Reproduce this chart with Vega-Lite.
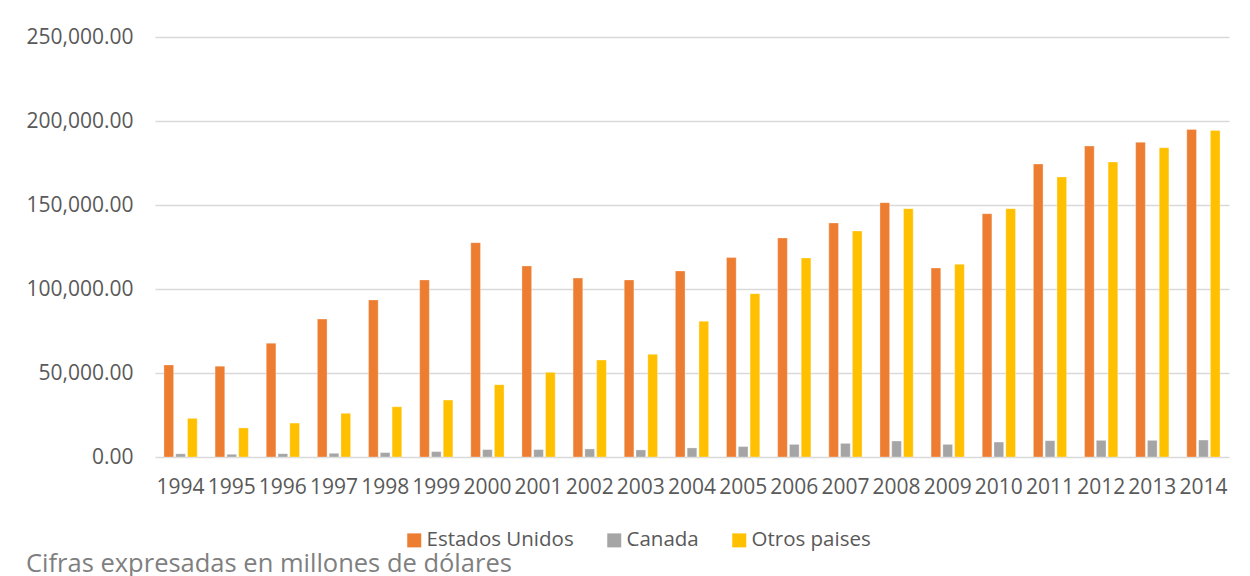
{
  "$schema": "https://vega.github.io/schema/vega-lite/v6.json",
  "width": 1074,
  "height": 420,
  "padding": {"left": 25, "top": 26, "right": 20, "bottom": 0},
  "background": "white",
  "title": {
    "text": "Cifras expresadas en millones de dólares",
    "orient": "bottom",
    "anchor": "start",
    "frame": "bounds",
    "font": "Open Sans",
    "fontSize": 25.5,
    "fontWeight": "normal",
    "color": "#7f7f7f",
    "offset": 1
  },
  "data": {
    "values": [
      {"year": "1994", "country": "Estados Unidos", "value": 54800},
      {"year": "1994", "country": "Canada", "value": 1900},
      {"year": "1994", "country": "Otros paises", "value": 23000},
      {"year": "1995", "country": "Estados Unidos", "value": 54000},
      {"year": "1995", "country": "Canada", "value": 1600},
      {"year": "1995", "country": "Otros paises", "value": 17300},
      {"year": "1996", "country": "Estados Unidos", "value": 67700},
      {"year": "1996", "country": "Canada", "value": 2000},
      {"year": "1996", "country": "Otros paises", "value": 20200},
      {"year": "1997", "country": "Estados Unidos", "value": 82100},
      {"year": "1997", "country": "Canada", "value": 2200},
      {"year": "1997", "country": "Otros paises", "value": 26000},
      {"year": "1998", "country": "Estados Unidos", "value": 93500},
      {"year": "1998", "country": "Canada", "value": 2600},
      {"year": "1998", "country": "Otros paises", "value": 29900},
      {"year": "1999", "country": "Estados Unidos", "value": 105400},
      {"year": "1999", "country": "Canada", "value": 3200},
      {"year": "1999", "country": "Otros paises", "value": 33900},
      {"year": "2000", "country": "Estados Unidos", "value": 127600},
      {"year": "2000", "country": "Canada", "value": 4400},
      {"year": "2000", "country": "Otros paises", "value": 43000},
      {"year": "2001", "country": "Estados Unidos", "value": 113700},
      {"year": "2001", "country": "Canada", "value": 4400},
      {"year": "2001", "country": "Otros paises", "value": 50400},
      {"year": "2002", "country": "Estados Unidos", "value": 106500},
      {"year": "2002", "country": "Canada", "value": 4800},
      {"year": "2002", "country": "Otros paises", "value": 57700},
      {"year": "2003", "country": "Estados Unidos", "value": 105400},
      {"year": "2003", "country": "Canada", "value": 4200},
      {"year": "2003", "country": "Otros paises", "value": 61100},
      {"year": "2004", "country": "Estados Unidos", "value": 110700},
      {"year": "2004", "country": "Canada", "value": 5400},
      {"year": "2004", "country": "Otros paises", "value": 80800},
      {"year": "2005", "country": "Estados Unidos", "value": 118700},
      {"year": "2005", "country": "Canada", "value": 6200},
      {"year": "2005", "country": "Otros paises", "value": 97200},
      {"year": "2006", "country": "Estados Unidos", "value": 130400},
      {"year": "2006", "country": "Canada", "value": 7500},
      {"year": "2006", "country": "Otros paises", "value": 118500},
      {"year": "2007", "country": "Estados Unidos", "value": 139300},
      {"year": "2007", "country": "Canada", "value": 8100},
      {"year": "2007", "country": "Otros paises", "value": 134500},
      {"year": "2008", "country": "Estados Unidos", "value": 151400},
      {"year": "2008", "country": "Canada", "value": 9500},
      {"year": "2008", "country": "Otros paises", "value": 147800},
      {"year": "2009", "country": "Estados Unidos", "value": 112500},
      {"year": "2009", "country": "Canada", "value": 7500},
      {"year": "2009", "country": "Otros paises", "value": 114700},
      {"year": "2010", "country": "Estados Unidos", "value": 144800},
      {"year": "2010", "country": "Canada", "value": 8900},
      {"year": "2010", "country": "Otros paises", "value": 147800},
      {"year": "2011", "country": "Estados Unidos", "value": 174400},
      {"year": "2011", "country": "Canada", "value": 9700},
      {"year": "2011", "country": "Otros paises", "value": 166700},
      {"year": "2012", "country": "Estados Unidos", "value": 185100},
      {"year": "2012", "country": "Canada", "value": 9900},
      {"year": "2012", "country": "Otros paises", "value": 175600},
      {"year": "2013", "country": "Estados Unidos", "value": 187300},
      {"year": "2013", "country": "Canada", "value": 9900},
      {"year": "2013", "country": "Otros paises", "value": 184100},
      {"year": "2014", "country": "Estados Unidos", "value": 195000},
      {"year": "2014", "country": "Canada", "value": 10100},
      {"year": "2014", "country": "Otros paises", "value": 194400}
    ]
  },
  "mark": {"type": "bar", "stroke": "white", "strokeWidth": 0.5, "strokeOpacity": 0.6},
  "encoding": {
    "x": {
      "field": "year",
      "type": "nominal",
      "scale": {"paddingInner": 0.35, "paddingOuter": 0.175},
      "axis": {
        "title": null,
        "labelAngle": 0,
        "labelOverlap": false,
        "labelFont": "Open Sans",
        "labelFontSize": 21,
        "labelColor": "#595959",
        "labelPadding": 19,
        "ticks": false,
        "domain": false
      }
    },
    "xOffset": {
      "field": "country",
      "type": "nominal",
      "sort": ["Estados Unidos", "Canada", "Otros paises"],
      "scale": {"paddingInner": 0.18, "paddingOuter": 0}
    },
    "y": {
      "field": "value",
      "type": "quantitative",
      "scale": {"domain": [0, 250000]},
      "axis": {
        "title": null,
        "format": ",.2f",
        "values": [0, 50000, 100000, 150000, 200000, 250000],
        "labelFont": "Open Sans",
        "labelFontSize": 21,
        "labelColor": "#595959",
        "labelPadding": 22,
        "ticks": false,
        "domain": false,
        "grid": true,
        "gridColor": "#d9d9d9",
        "gridWidth": 1.5
      }
    },
    "color": {
      "field": "country",
      "type": "nominal",
      "sort": ["Estados Unidos", "Canada", "Otros paises"],
      "scale": {
        "domain": ["Estados Unidos", "Canada", "Otros paises"],
        "range": ["#ED7D31", "#A5A5A5", "#FFC000"]
      },
      "legend": {
        "title": null,
        "orient": "none",
        "legendX": 249,
        "legendY": 493,
        "direction": "horizontal",
        "symbolType": "square",
        "symbolSize": 196,
        "symbolStrokeWidth": 0,
        "labelFont": "Open Sans",
        "labelFontSize": 20.5,
        "labelColor": "#595959",
        "columnPadding": 30,
        "labelOffset": 2
      }
    }
  },
  "config": {
    "view": {"stroke": null}
  }
}
